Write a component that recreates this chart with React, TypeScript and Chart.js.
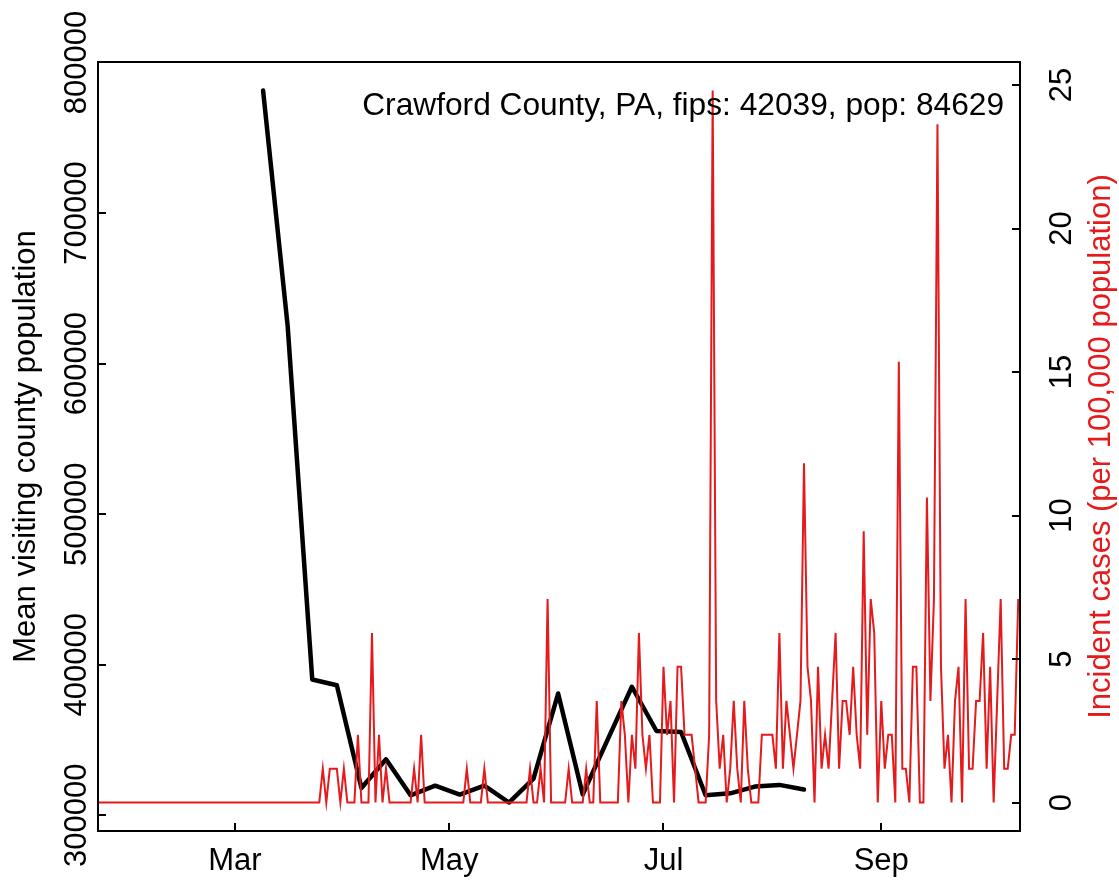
import React, { useEffect, useRef } from "react";
import { Chart, registerables } from "chart.js";

Chart.register(...registerables);

// Day numbers are counted from 1 January 2020 (= day 0).
const caseStartDay = 21; // 22 January 2020, first day of the daily case series

// Daily incident cases per 100,000 population (red series), one value per day from caseStartDay.
const caseValues: number[] = [
  0, 0, 0, 0, 0, 0, 0, 0, 0, 0, 0, 0, 0, 0, 0, 0, 0, 0, 0, 0,
  0, 0, 0, 0, 0, 0, 0, 0, 0, 0, 0, 0, 0, 0, 0, 0, 0, 0, 0, 0,
  0, 0, 0, 0, 0, 0, 0, 0, 0, 0, 0, 0, 0, 0, 0, 0, 0, 0, 0, 0,
  0, 0, 0, 0,
  1.18, 0, 1.18, 1.18, 1.18, 0, 1.18, 0, 0, 0,
  2.36, 0, 0, 0, 5.91, 0, 2.36, 0, 1.18, 0,
  0, 0, 0, 0, 0, 0, 1.18, 0, 2.36, 0,
  0, 0, 0, 0, 0, 0, 0, 0, 0, 0,
  0, 1.18, 0, 0, 0, 0, 1.18, 0, 0, 0,
  0, 0, 0, 0, 0, 0, 0, 0, 0, 1.18,
  0, 0, 1.18, 0, 7.09, 0, 0, 0, 0, 0,
  1.18, 0, 0, 0, 0, 1.18, 0, 0, 3.54, 0,
  0, 0, 0, 0, 0, 3.54, 2.36, 0, 2.36, 1.18,
  5.91, 2.36, 1.18, 2.36, 0, 0, 0, 4.73, 2.36, 3.54,
  0, 4.73, 4.73, 2.36, 2.36, 2.36, 1.18, 0, 0, 0,
  2.36, 24.81, 3.54, 1.18, 2.36, 0, 1.18, 3.54, 1.18, 0,
  3.54, 1.18, 0, 0, 0, 2.36, 2.36, 2.36, 2.36, 1.18,
  5.91, 1.18, 3.54, 2.36, 1.18, 2.36, 3.54, 11.82, 4.73, 3.54,
  0, 4.73, 1.18, 2.36, 1.18, 3.54, 5.91, 1.18, 3.54, 3.54,
  2.36, 4.73, 2.36, 1.18, 9.45, 2.36, 7.09, 5.91, 0, 3.54,
  1.18, 2.36, 2.36, 0, 15.36, 1.18, 1.18, 0, 4.73, 4.73,
  0, 0, 10.63, 3.54, 7.09, 23.63, 4.73, 1.18, 2.36, 0,
  3.54, 4.73, 0, 7.09, 1.18, 1.18, 3.54, 3.54, 5.91, 1.18,
  4.73, 0, 3.54, 7.09, 1.18, 1.18, 2.36, 2.36, 7.09,
];

// Weekly mean visiting county population (black series).
const visitDays: number[] = [
  68, 75, 82, 89, 96, 103, 110, 117, 124, 131, 138, 145,
  152, 159, 166, 173, 180, 187, 194, 201, 208, 215, 222,
];
const visitValues: number[] = [
  781400, 625000, 390200, 386400, 318100, 337200, 313300, 319700, 313800, 319700, 308500, 324400,
  380900, 313800, 349800, 385400, 356000, 355300, 313300, 314600, 319100, 320200, 317100,
];

const monthTickDays = [60, 121, 182, 244];
const monthTickLabels = ["Mar", "May", "Jul", "Sep"];
const leftTickValues = [300000, 400000, 500000, 600000, 700000, 800000];
const rightTickValues = [0, 5, 10, 15, 20, 25];

const xDayMin = 21;
const xDayMax = 283.5;

const chartTitle = "Crawford County, PA, fips: 42039, pop: 84629";
const leftAxisTitle = "Mean visiting county population";
const rightAxisTitle = "Incident cases (per 100,000 population)";

const RED = "#E41A1C";
const FONT = '"Liberation Sans", Arial, Helvetica, sans-serif';
const FONT_SIZE = 31;
const TITLE_FONT_SIZE = 31.7;
const TICK_LEN = 8;

const decorPlugin = {
  id: "rDecor",
  afterDraw(chart: any) {
    const { ctx, chartArea: a } = chart;
    const xS = chart.scales.x;
    const yL = chart.scales.yL;
    const yR = chart.scales.yR;
    ctx.save();
    ctx.strokeStyle = "#000";
    ctx.lineWidth = 2;
    ctx.beginPath();
    for (const t of xS.ticks) {
      const px = Math.round(xS.getPixelForValue(t.value));
      ctx.moveTo(px, a.bottom);
      ctx.lineTo(px, a.bottom - TICK_LEN);
    }
    for (const t of yL.ticks) {
      const py = Math.round(yL.getPixelForValue(t.value));
      ctx.moveTo(a.left, py);
      ctx.lineTo(a.left + TICK_LEN, py);
    }
    for (const t of yR.ticks) {
      const py = Math.round(yR.getPixelForValue(t.value));
      ctx.moveTo(a.right, py);
      ctx.lineTo(a.right - TICK_LEN, py);
    }
    ctx.stroke();
    ctx.strokeRect(a.left, a.top, a.right - a.left, a.bottom - a.top);

    ctx.font = `${FONT_SIZE}px ${FONT}`;
    ctx.textBaseline = "alphabetic";
    ctx.textAlign = "center";
    const midY = (a.top + a.bottom) / 2;

    ctx.fillStyle = "#000";
    ctx.save();
    ctx.translate(35, midY);
    ctx.rotate(-Math.PI / 2);
    ctx.fillText(leftAxisTitle, 0, 0);
    ctx.restore();

    ctx.fillStyle = RED;
    ctx.save();
    ctx.translate(1110, midY);
    ctx.rotate(-Math.PI / 2);
    ctx.fillText(rightAxisTitle, 0, 0);
    ctx.restore();

    ctx.font = `${TITLE_FONT_SIZE}px ${FONT}`;
    ctx.fillStyle = "#000";
    ctx.textAlign = "right";
    ctx.fillText(chartTitle, 1004, 115);
    ctx.restore();
  },
};

export default function App() {
  const canvasRef = useRef<HTMLCanvasElement>(null);

  useEffect(() => {
    const canvas = canvasRef.current;
    if (!canvas) return;

    const casePoints = caseValues.map((v, i) => ({ x: caseStartDay + i, y: v }));
    const visitPoints = visitDays.map((d, i) => ({ x: d, y: visitValues[i] }));

    const vMin = Math.min(...visitValues);
    const vMax = Math.max(...visitValues);
    const vPad = (vMax - vMin) * 0.04;
    const cMin = Math.min(...caseValues);
    const cMax = Math.max(...caseValues);
    const cPad = (cMax - cMin) * 0.04;

    const tickFont = { family: FONT, size: FONT_SIZE };

    const chart = new Chart(canvas, {
      type: "line",
      data: {
        datasets: [
          {
            label: "Incident cases",
            data: casePoints,
            yAxisID: "yR",
            borderColor: RED,
            borderWidth: 2,
            pointRadius: 0,
            tension: 0,
            fill: false,
            borderJoinStyle: "miter",
          },
          {
            label: "Mean visiting county population",
            data: visitPoints,
            yAxisID: "yL",
            borderColor: "#000",
            borderWidth: 4.5,
            pointRadius: 0,
            tension: 0,
            fill: false,
            borderJoinStyle: "round",
            borderCapStyle: "round",
          },
        ],
      },
      options: {
        responsive: false,
        animation: false,
        devicePixelRatio: 1,
        layout: { padding: { top: 62, left: 0, right: 0, bottom: 0 } },
        plugins: { legend: { display: false }, tooltip: { enabled: false } },
        scales: {
          x: {
            type: "linear",
            position: "bottom",
            min: xDayMin,
            max: xDayMax,
            grid: { display: false, drawTicks: false },
            border: { display: false },
            afterBuildTicks: (s: any) => {
              s.ticks = monthTickDays.map((v) => ({ value: v }));
            },
            afterFit: (s: any) => {
              s.height = 49;
            },
            ticks: {
              autoSkip: false,
              maxRotation: 0,
              minRotation: 0,
              padding: 12,
              color: "#000",
              font: tickFont,
              callback: (v: any) => {
                const i = monthTickDays.indexOf(Number(v));
                return i >= 0 ? monthTickLabels[i] : "";
              },
            },
          },
          yL: {
            type: "linear",
            position: "left",
            min: vMin - vPad,
            max: vMax + vPad,
            grid: { display: false, drawTicks: false },
            border: { display: false },
            afterBuildTicks: (s: any) => {
              s.ticks = leftTickValues.map((v) => ({ value: v }));
            },
            afterFit: (s: any) => {
              s.width = 98;
            },
            ticks: {
              autoSkip: false,
              minRotation: 90,
              maxRotation: 90,
              crossAlign: "center",
              padding: -31,
              color: "#000",
              font: tickFont,
              callback: (v: any) => String(v),
            },
          },
          yR: {
            type: "linear",
            position: "right",
            min: cMin - cPad,
            max: cMax + cPad,
            grid: { display: false, drawTicks: false },
            border: { display: false },
            afterBuildTicks: (s: any) => {
              s.ticks = rightTickValues.map((v) => ({ value: v }));
            },
            afterFit: (s: any) => {
              s.width = 99;
            },
            ticks: {
              autoSkip: false,
              minRotation: 90,
              maxRotation: 90,
              crossAlign: "center",
              padding: 25,
              color: "#000",
              font: tickFont,
              callback: (v: any) => String(v),
            },
          },
        },
      },
      plugins: [decorPlugin],
    });

    return () => chart.destroy();
  }, []);

  return (
    <div style={{ position: "absolute", left: 0, top: 0, width: 1119, height: 880, background: "#fff" }}>
      <canvas ref={canvasRef} width={1119} height={880} style={{ display: "block" }} />
    </div>
  );
}
